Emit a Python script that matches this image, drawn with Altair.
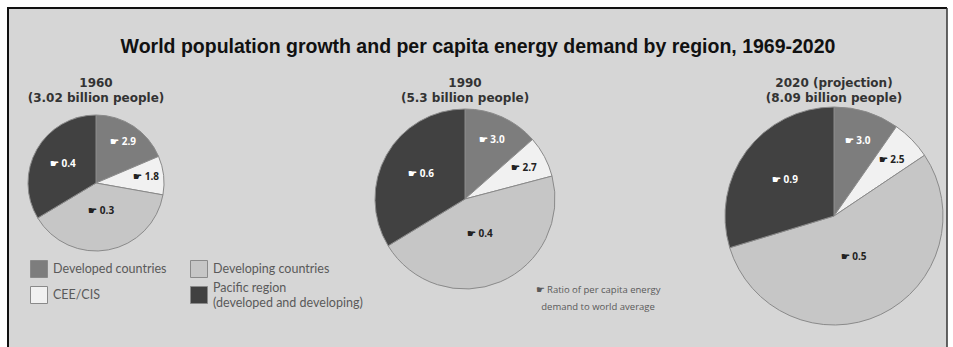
import altair as alt
import pandas as pd

# Regions in drawing order (clockwise from 12 o'clock)
regions = [
    "Developed countries",
    "CEE/CIS",
    "Developing countries",
    "Pacific region (developed and developing)",
]
region_colors = {
    "Developed countries": "#7d7d7d",
    "Developing countries": "#c6c6c6",
    "CEE/CIS": "#f1f1f1",
    "Pacific region (developed and developing)": "#414141",
}
# Legend text per region (the last one wraps onto two lines)
legend_text = {
    "Developed countries": ["Developed countries"],
    "CEE/CIS": ["CEE/CIS"],
    "Developing countries": ["Developing countries"],
    "Pacific region (developed and developing)": ["Pacific region", "(developed and developing)"],
}

years = ["1960", "1990", "2020 (projection)"]
populations = ["(3.02 billion people)", "(5.3 billion people)", "(8.09 billion people)"]

# Share of world population (%) per region
share_1960 = [18.6, 9.2, 38.6, 33.6]
share_1990 = [13.5, 7.4, 45.4, 33.7]
share_2020 = [9.7, 5.9, 54.7, 29.7]

# Per capita energy demand relative to world average
ratio_1960 = [2.9, 1.8, 0.3, 0.4]
ratio_1990 = [3.0, 2.7, 0.4, 0.6]
ratio_2020 = [3.0, 2.5, 0.5, 0.9]

shares = [share_1960, share_1990, share_2020]
ratios = [ratio_1960, ratio_1990, ratio_2020]

rows = []
for y, sh, ra in zip(years, shares, ratios):
    for i, reg in enumerate(regions):
        rows.append({"year": y, "region": reg, "idx": i, "share": sh[i], "ratio": ra[i]})
df = pd.DataFrame(rows)

# Pie centres and radii inside the panel (pixels)
pie_layout = [(88, 175, 68), (457, 191, 90), (826, 208, 109)]
# Label distance from centre, as a fraction of the radius
label_frac = {
    "Developed countries": 0.72,
    "CEE/CIS": 0.74,
    "Developing countries": 0.42,
    "Pacific region (developed and developing)": 0.56,
}
dark_regions = ["Developed countries", "Pacific region (developed and developing)"]

# Legend swatch centres (panel pixels), 2 x 2 grid
legend_pos = {
    "Developed countries": (31, 261),
    "Developing countries": (191, 261),
    "CEE/CIS": (31, 287),
    "Pacific region (developed and developing)": (191, 287),
}

W, H = 939, 339
FONT = "Open Sans"
LEGEND_FONT = "Lato"

color_scale = alt.Scale(domain=regions, range=[region_colors[r] for r in regions])
theta_scale = alt.Scale(domain=[0, 100])

base = alt.Chart(df)
layers = []

for k, (y, pop) in enumerate(zip(years, populations)):
    cx, cy, r = pie_layout[k]
    pie_base = base.transform_filter(alt.datum.year == y)

    arcs = pie_base.mark_arc(stroke="#8a8a8a", strokeWidth=1, radius=r).encode(
        theta=alt.Theta("share:Q", stack=True, scale=theta_scale),
        order=alt.Order("idx:Q", sort="ascending"),
        color=alt.Color("region:N", scale=color_scale, legend=None),
        x=alt.value(cx),
        y=alt.value(cy),
    )
    layers.append(arcs)

    # Value labels at the middle of each slice
    mid = (
        pie_base.transform_window(cum="sum(share)", sort=[alt.SortField("idx", order="ascending")])
        .transform_calculate(mid="datum.cum - datum.share / 2",
                             label="'☛ ' + format(datum.ratio, '.1f')")
    )
    for reg in regions:
        txt = mid.transform_filter(alt.datum.region == reg).mark_text(
            radius=r * label_frac[reg], font=FONT, fontSize=10, fontWeight="bold",
        ).encode(
            theta=alt.Theta("mid:Q", scale=theta_scale),
            text="label:N",
            x=alt.value(cx),
            y=alt.value(cy),
            color=alt.value("white" if reg in dark_regions else "#222222"),
        )
        layers.append(txt)

    title = alt.Chart(pd.DataFrame({"t": [0]})).mark_text(
        text=[y, pop], font="DejaVu Sans", fontSize=12, fontWeight="bold", color="#333333",
        lineHeight=15, baseline="middle", align="center",
    ).encode(x=alt.value(cx), y=alt.value(75))
    layers.append(title)

# Legend: swatches coloured through the shared colour scale, with their texts
legend_layers = []
for reg in regions:
    lx, ly = legend_pos[reg]
    one = base.transform_filter((alt.datum.year == years[0]) & (alt.datum.region == reg))
    legend_layers.append(
        one.mark_square(size=289, opacity=1, stroke="#8a8a8a", strokeWidth=1).encode(
            x=alt.value(lx), y=alt.value(ly),
            color=alt.Color("region:N", scale=color_scale, legend=None),
        )
    )
    lines = legend_text[reg]
    legend_layers.append(
        alt.Chart(pd.DataFrame({"t": [0]})).mark_text(
            text=lines, font=LEGEND_FONT, fontSize=12.5, color="#5a5a5a", lineHeight=15.5,
            align="left", baseline="middle",
        ).encode(x=alt.value(lx + 14), y=alt.value(ly - 7.5 * (len(lines) - 1)))
    )

main_title = alt.Chart(pd.DataFrame({"t": [0]})).mark_text(
    text="World population growth and per capita energy demand by region, 1969-2020",
    font="Liberation Sans", fontSize=19.5, fontWeight="bold", color="#111111",
    align="center", baseline="middle",
).encode(x=alt.value(470), y=alt.value(39))

note = alt.Chart(pd.DataFrame({"t": [0]})).mark_text(
    text=["☛ Ratio of per capita energy", "demand to world average"],
    font=FONT, fontSize=9.5, color="#5a5a5a", lineHeight=17,
    align="center", baseline="middle",
).encode(x=alt.value(590), y=alt.value(282))

# Panel frame: left, top and right edges
frame_left = alt.Chart(pd.DataFrame({"t": [0]})).mark_rule(color="#111111", strokeWidth=2).encode(
    x=alt.value(0), y=alt.value(-1), y2=alt.value(H))
frame_top = alt.Chart(pd.DataFrame({"t": [0]})).mark_rule(color="#111111", strokeWidth=2).encode(
    x=alt.value(-1), x2=alt.value(W), y=alt.value(0))
frame_right = alt.Chart(pd.DataFrame({"t": [0]})).mark_rule(color="#333333", strokeWidth=1.5).encode(
    x=alt.value(W), y=alt.value(0), y2=alt.value(H))

chart = alt.layer(*layers, *legend_layers, main_title, note,
                  frame_left, frame_top, frame_right).properties(
    width=W, height=H,
    padding={"left": 8, "top": 8, "right": 6, "bottom": 0},
    autosize=alt.AutoSizeParams(type="none"),
    background="white",
).configure_view(fill="#d6d6d6", stroke=None)

chart.save("out.html", embed_options={"renderer": "svg", "actions": False})
